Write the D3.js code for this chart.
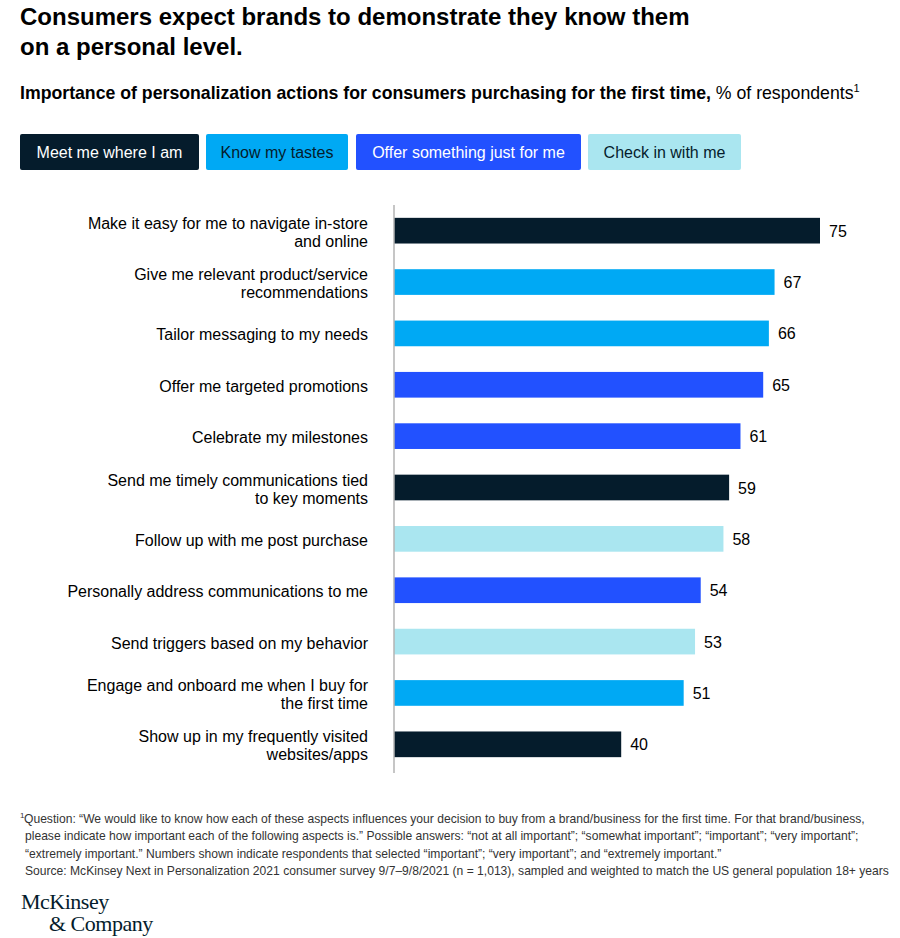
<!DOCTYPE html>
<html><head><meta charset="utf-8">
<script src="https://cdn.jsdelivr.net/npm/d3@7"></script>
<style>
body{margin:0;background:#fff;}
svg{display:block;font-family:"Liberation Sans",Arial,sans-serif;}
</style></head>
<body>
<svg id="chart" width="900" height="938"></svg>
<script>
const categories = [
  ["Make it easy for me to navigate in-store","and online"],
  ["Give me relevant product/service","recommendations"],
  ["Tailor messaging to my needs"],
  ["Offer me targeted promotions"],
  ["Celebrate my milestones"],
  ["Send me timely communications tied","to key moments"],
  ["Follow up with me post purchase"],
  ["Personally address communications to me"],
  ["Send triggers based on my behavior"],
  ["Engage and onboard me when I buy for","the first time"],
  ["Show up in my frequently visited","websites/apps"]
];
const values = [75, 67, 66, 65, 61, 59, 58, 54, 53, 51, 40];
const groups = ["Meet me where I am","Know my tastes","Know my tastes","Offer something just for me","Offer something just for me","Meet me where I am","Check in with me","Offer something just for me","Check in with me","Know my tastes","Meet me where I am"];
const legendNames = ["Meet me where I am","Know my tastes","Offer something just for me","Check in with me"];
const legendColors = ["#051c2c","#00a9f4","#2251ff","#aae6f0"];
const legendText = ["#ffffff","#051c2c","#ffffff","#051c2c"];

const svg = d3.select("#chart");
const ink = "#000000";

// Title
const title = svg.append("text").attr("x",20).attr("font-size",24).attr("font-weight","bold").attr("fill",ink);
title.append("tspan").attr("x",20).attr("y",25).text("Consumers expect brands to demonstrate they know them");
title.append("tspan").attr("x",20).attr("y",55).text("on a personal level.");

// Subtitle
const sub = svg.append("text").attr("x",20).attr("y",99).attr("font-size",17.7).attr("fill",ink);
sub.append("tspan").attr("font-weight","bold").text("Importance of personalization actions for consumers purchasing for the first time,");
sub.append("tspan").text(" % of respondents");
sub.append("tspan").attr("font-size",11).attr("dy",-7).text("1");

// Legend
const legX = [20,206,356,588], legW = [179,142,225,153];
const color = d3.scaleOrdinal().domain(legendNames).range(legendColors);
const lg = svg.append("g");
legendNames.forEach((n,i)=>{
  lg.append("rect").attr("x",legX[i]).attr("y",134).attr("width",legW[i]).attr("height",36).attr("rx",2).attr("fill",legendColors[i]);
  lg.append("text").attr("x",legX[i]+legW[i]/2).attr("y",158).attr("text-anchor","middle").attr("font-size",16).attr("fill",legendText[i]).text(n);
});

// Chart
const x0 = 394;
const x = d3.scaleLinear().domain([0,75]).range([x0,820]);
const y = d3.scaleBand().domain(d3.range(values.length)).range([205,770]).paddingInner(0.5).paddingOuter(0.25);

const g = svg.append("g");
g.selectAll("rect.bar").data(values).join("rect").attr("class","bar")
  .attr("x",x(0)).attr("y",(d,i)=>y(i)).attr("width",d=>x(d)-x(0)).attr("height",y.bandwidth())
  .attr("fill",(d,i)=>color(groups[i]));
g.selectAll("text.val").data(values).join("text").attr("class","val")
  .attr("x",d=>x(d)+9).attr("y",(d,i)=>y(i)+y.bandwidth()/2+6).attr("font-size",16).attr("fill",ink).text(d=>d);

categories.forEach((lines,i)=>{
  const cy = y(i)+y.bandwidth()/2;
  const t = g.append("text").attr("text-anchor","end").attr("font-size",16).attr("fill",ink);
  const lh = 18;
  const start = cy - (lines.length-1)*lh/2 + 7;
  lines.forEach((l,j)=>t.append("tspan").attr("x",368).attr("y",start+j*lh).text(l));
});

g.append("line").attr("x1",x0).attr("x2",x0).attr("y1",205).attr("y2",773).attr("stroke","#b3b3b3").attr("stroke-width",1.5);

// Footnote
const fn = svg.append("g").attr("font-size",12.1).attr("fill","#333");
const fl = [
  "Question: \u201cWe would like to know how each of these aspects influences your decision to buy from a brand/business for the first time. For that brand/business,",
  "please indicate how important each of the following aspects is.\u201d Possible answers: \u201cnot at all important\u201d; \u201csomewhat important\u201d; \u201cimportant\u201d; \u201cvery important\u201d;",
  "\u201cextremely important.\u201d Numbers shown indicate respondents that selected \u201cimportant\u201d; \u201cvery important\u201d; and \u201cextremely important.\u201d",
  "Source: McKinsey Next in Personalization 2021 consumer survey 9/7\u20139/8/2021 (n = 1,013), sampled and weighted to match the US general population 18+ years"
];
fn.append("text").attr("x",20).attr("y",818).attr("font-size",8).text("1");
fl.forEach((l,i)=>fn.append("text").attr("x",i==0?24:25).attr("y",823+i*17.3).text(l));

// Logo
const logo = svg.append("g").attr("font-family","'Liberation Serif','DejaVu Serif',serif").attr("fill","#051c2c").attr("font-size",22);
logo.append("text").attr("x",21).attr("y",909).attr("letter-spacing",-0.5).text("McKinsey");
logo.append("text").attr("x",49).attr("y",931).attr("letter-spacing",-0.5).text("& Company");
</script>
</body></html>
